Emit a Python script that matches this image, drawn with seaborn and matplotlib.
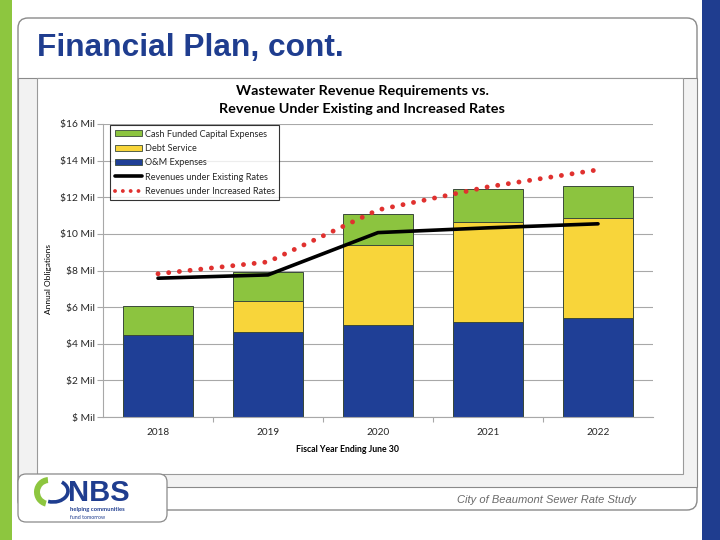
import matplotlib
matplotlib.use("Agg")
import matplotlib.pyplot as plt
import seaborn as sns
import numpy as np
import pandas as pd
from matplotlib.patches import FancyBboxPatch, Rectangle, Patch, Arc, Wedge
from matplotlib.lines import Line2D

# ---------------- data ----------------
years = ["2018", "2019", "2020", "2021", "2022"]
om_expenses = [4.48, 4.64, 5.03, 5.19, 5.41]
debt_service = [0.0, 1.70, 4.37, 5.47, 5.46]
cash_capital = [1.59, 1.58, 1.69, 1.80, 1.75]
rev_existing = [7.58, 7.76, 10.07, 10.33, 10.55]
rev_increased = [7.82, 8.47, 11.31, 12.57, 13.50]
y_ticks = [0, 2, 4, 6, 8, 10, 12, 14, 16]
y_tick_labels = [r"\$ Mil", r"\$2 Mil", r"\$4 Mil", r"\$6 Mil", r"\$8 Mil",
                 r"\$10 Mil", r"\$12 Mil", r"\$14 Mil", r"\$16 Mil"]
legend_labels = ["Cash Funded Capital Expenses", "Debt Service", "O&M Expenses",
                 "Revenues under Existing Rates", "Revenues under Increased Rates"]

# ---------------- style ----------------
sns.set_style("white")
plt.rcParams["font.family"] = ["Lato", "DejaVu Sans"]

GREEN = "#8CC43F"
YELLOW = "#F8D53A"
BLUE = "#1F3F96"
EDGE = "#3a4a3a"
SLIDE_BLUE = "#1F3D8F"
SLIDE_GREEN = "#8DC63F"
RED = "#E0312F"

W, H = 720, 540
fig = plt.figure(figsize=(W / 100, H / 100), dpi=100)
fig.patch.set_facecolor("white")

# background / slide decoration axes in pixel coordinates
bg = fig.add_axes([0, 0, 1, 1], zorder=0)
bg.set_xlim(0, W)
bg.set_ylim(H, 0)
bg.axis("off")

bg.add_patch(Rectangle((0, 0), 12, H, color=SLIDE_GREEN, lw=0))
bg.add_patch(Rectangle((702, 0), 18, H, color=SLIDE_BLUE, lw=0))

# outer rounded frame
bg.add_patch(FancyBboxPatch((18, 18), 679, 492,
                            boxstyle="round,pad=0,rounding_size=10",
                            fc="white", ec="#8a8a8a", lw=1.0))
# grey content band
bg.add_patch(Rectangle((18, 78), 679, 409, fc="#F2F2F2", ec="#8a8a8a", lw=0.8))
# chart white box
bg.add_patch(Rectangle((37, 78), 646, 396, fc="white", ec="#9a9a9a", lw=0.8))

bg.text(37, 48, "Financial Plan, cont.", fontsize=22.8, color=SLIDE_BLUE,
        fontweight="bold", family=["Liberation Sans", "DejaVu Sans"],
        va="center", ha="left")

bg.text(636, 500, "City of Beaumont Sewer Rate Study", fontsize=8, color="#6a6a6a",
        family=["Liberation Sans", "DejaVu Sans"], style="italic",
        va="center", ha="right")

# logo box
bg.add_patch(FancyBboxPatch((18, 474), 149, 48,
                            boxstyle="round,pad=0,rounding_size=8",
                            fc="white", ec="#8a8a8a", lw=0.9))
bg.add_patch(Wedge((49, 492), 15, 105, 265, width=6, fc=SLIDE_GREEN, ec="none"))
bg.add_patch(Arc((53, 491), 30, 22, theta1=-45, theta2=115, color=SLIDE_BLUE, lw=2.6))
bg.text(68, 493, "NBS", fontsize=21, fontweight="bold", color=SLIDE_BLUE,
        family=["Liberation Sans", "DejaVu Sans"], va="center", ha="left")
bg.text(70, 510, "helping communities", fontsize=4.2, color=SLIDE_BLUE,
        fontweight="bold", va="center", ha="left")
bg.text(70, 517.5, "fund tomorrow", fontsize=3.8, color=SLIDE_BLUE,
        va="center", ha="left")

# chart title and axis labels
bg.text(362, 91, "Wastewater Revenue Requirements vs.", fontsize=10.4,
        fontweight="bold", ha="center", va="center", color="black")
bg.text(362, 109, "Revenue Under Existing and Increased Rates", fontsize=10.4,
        fontweight="bold", ha="center", va="center", color="black")
bg.text(48, 279, "Annual Obligations", fontsize=6.0, rotation=90,
        ha="center", va="center", color="black")
bg.text(347, 450, "Fiscal Year Ending June 30", fontsize=6.3, fontweight="bold",
        ha="center", va="center", color="black")

# ---------------- chart ----------------
x0, x1, ytop, ybot = 103, 653, 124, 417
ax = fig.add_axes([x0 / W, 1 - ybot / H, (x1 - x0) / W, (ybot - ytop) / H], zorder=2)
ax.set_facecolor("none")

om = np.array(om_expenses)
mid = om + np.array(debt_service)
total = mid + np.array(cash_capital)
df = pd.DataFrame({"year": years, "om": om, "mid": mid, "total": total})

common = dict(data=df, x="year", saturation=1, width=0.63, errorbar=None,
              edgecolor=EDGE, linewidth=0.7, ax=ax, zorder=2)
sns.barplot(y="total", color=GREEN, **common)
sns.barplot(y="mid", color=YELLOW, **common)
sns.barplot(y="om", color=BLUE, **common)

xpos = np.arange(len(years))
sns.lineplot(x=xpos, y=rev_existing, color="black", lw=2.6, ax=ax, zorder=4)
sns.lineplot(x=xpos, y=rev_increased, color=RED, lw=3.5, ax=ax, zorder=5,
             linestyle=(0, (0.01, 2.2)), dash_capstyle="round")

ax.set_xlim(-0.5, len(years) - 0.5)
ax.set_ylim(0, 16)
ax.set_yticks(y_ticks)
ax.set_yticklabels(y_tick_labels)
ax.set_xticks(xpos)
ax.set_xticklabels(years)
ax.set_xticks(np.arange(0.5, len(years) - 1, 1), minor=True)
ax.set_xlabel("")
ax.set_ylabel("")
ax.grid(axis="y", color="#a8a8a8", lw=0.8, zorder=0)
ax.set_axisbelow(True)
for s in ["top", "right"]:
    ax.spines[s].set_visible(False)
ax.spines["left"].set_color("#a8a8a8")
ax.spines["left"].set_linewidth(0.8)
ax.spines["bottom"].set_color("#a8a8a8")
ax.spines["bottom"].set_linewidth(0.8)
ax.tick_params(axis="y", labelsize=7.4, length=4.5, width=0.8, color="#a8a8a8",
               pad=1.5, left=True)
ax.tick_params(axis="x", which="major", labelsize=7.2, length=0, pad=8)
ax.tick_params(axis="x", which="minor", length=3.5, width=0.8, color="#a8a8a8",
               bottom=True)

handles = [
    Patch(fc=GREEN, ec=EDGE, lw=0.6),
    Patch(fc=YELLOW, ec=EDGE, lw=0.6),
    Patch(fc=BLUE, ec=EDGE, lw=0.6),
    Line2D([], [], color="black", lw=2.6),
    Line2D([], [], color=RED, lw=2.8, linestyle=(0, (0.01, 2.0)),
           dash_capstyle="round"),
]
leg = ax.legend(handles, legend_labels, loc="upper left",
                bbox_to_anchor=(110 / W, 1 - 125 / H), bbox_transform=fig.transFigure,
                fontsize=6.6, frameon=True, fancybox=False, edgecolor="black",
                handlelength=3.0, handleheight=0.6, handletextpad=0.3,
                labelspacing=0.58, borderpad=0.5, borderaxespad=0)
leg.get_frame().set_linewidth(0.8)
leg.set_zorder(10)

fig.savefig("out.png", dpi=100)
